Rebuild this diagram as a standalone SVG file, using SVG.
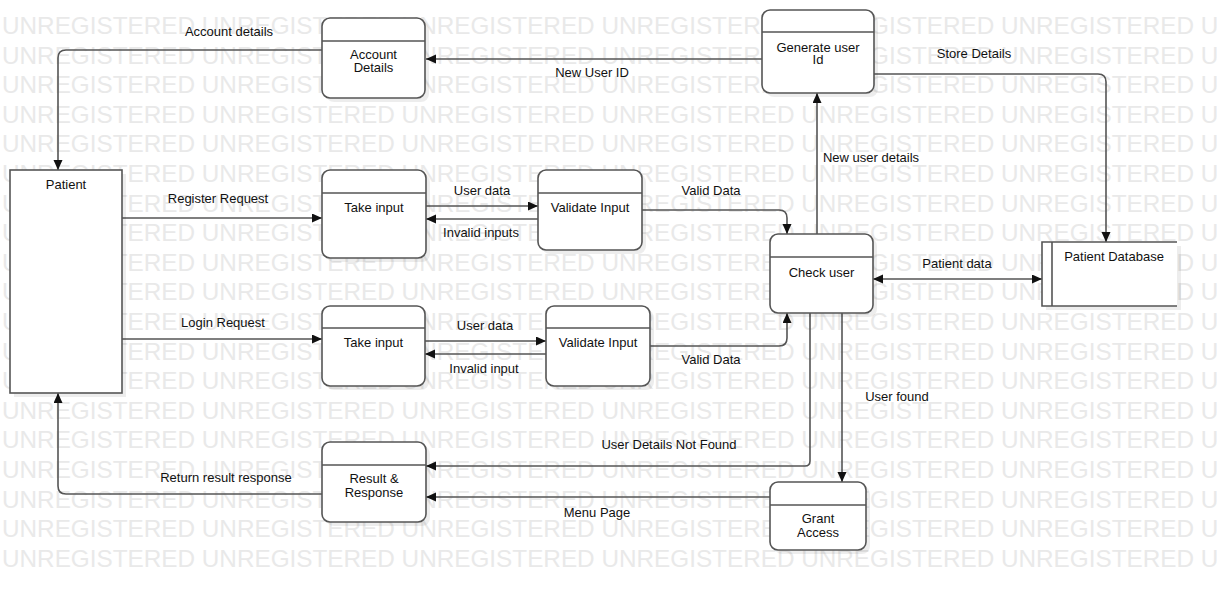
<svg xmlns="http://www.w3.org/2000/svg" width="1217" height="590" viewBox="0 0 1217 590">
<style>
.wm{font-family:"Liberation Sans",Arial,sans-serif;font-size:24.3px;fill:#e9e9e9}
.box{fill:#fff;stroke:#555;stroke-width:1.6}
.hd{stroke:#555;stroke-width:1.6}
.sh{fill:#000;fill-opacity:0.07}
.t{font-family:"Liberation Sans",Arial,sans-serif;font-size:13px;fill:#111;text-anchor:middle}
.c{fill:none;stroke:#555;stroke-width:1.6}
</style>
<defs>
<marker id="a" markerUnits="userSpaceOnUse" markerWidth="12" markerHeight="10" refX="10" refY="4.5" orient="auto-start-reverse"><path d="M0,0 L10,4.5 L0,9 z" fill="#111"/></marker>
</defs>
<rect width="1217" height="590" fill="#fff"/>
<g id="watermark">
<text class="wm" x="2" y="34">UNREGISTERED UNREGISTERED UNREGISTERED UNREGISTERED UNREGISTERED UNREGISTERED UNREGISTERED</text>
<text class="wm" x="2" y="63.6">UNREGISTERED UNREGISTERED UNREGISTERED UNREGISTERED UNREGISTERED UNREGISTERED UNREGISTERED</text>
<text class="wm" x="2" y="93.2">UNREGISTERED UNREGISTERED UNREGISTERED UNREGISTERED UNREGISTERED UNREGISTERED UNREGISTERED</text>
<text class="wm" x="2" y="122.8">UNREGISTERED UNREGISTERED UNREGISTERED UNREGISTERED UNREGISTERED UNREGISTERED UNREGISTERED</text>
<text class="wm" x="2" y="152.4">UNREGISTERED UNREGISTERED UNREGISTERED UNREGISTERED UNREGISTERED UNREGISTERED UNREGISTERED</text>
<text class="wm" x="2" y="182">UNREGISTERED UNREGISTERED UNREGISTERED UNREGISTERED UNREGISTERED UNREGISTERED UNREGISTERED</text>
<text class="wm" x="2" y="211.6">UNREGISTERED UNREGISTERED UNREGISTERED UNREGISTERED UNREGISTERED UNREGISTERED UNREGISTERED</text>
<text class="wm" x="2" y="241.2">UNREGISTERED UNREGISTERED UNREGISTERED UNREGISTERED UNREGISTERED UNREGISTERED UNREGISTERED</text>
<text class="wm" x="2" y="270.8">UNREGISTERED UNREGISTERED UNREGISTERED UNREGISTERED UNREGISTERED UNREGISTERED UNREGISTERED</text>
<text class="wm" x="2" y="300.4">UNREGISTERED UNREGISTERED UNREGISTERED UNREGISTERED UNREGISTERED UNREGISTERED UNREGISTERED</text>
<text class="wm" x="2" y="330">UNREGISTERED UNREGISTERED UNREGISTERED UNREGISTERED UNREGISTERED UNREGISTERED UNREGISTERED</text>
<text class="wm" x="2" y="359.6">UNREGISTERED UNREGISTERED UNREGISTERED UNREGISTERED UNREGISTERED UNREGISTERED UNREGISTERED</text>
<text class="wm" x="2" y="389.2">UNREGISTERED UNREGISTERED UNREGISTERED UNREGISTERED UNREGISTERED UNREGISTERED UNREGISTERED</text>
<text class="wm" x="2" y="418.8">UNREGISTERED UNREGISTERED UNREGISTERED UNREGISTERED UNREGISTERED UNREGISTERED UNREGISTERED</text>
<text class="wm" x="2" y="448.4">UNREGISTERED UNREGISTERED UNREGISTERED UNREGISTERED UNREGISTERED UNREGISTERED UNREGISTERED</text>
<text class="wm" x="2" y="478">UNREGISTERED UNREGISTERED UNREGISTERED UNREGISTERED UNREGISTERED UNREGISTERED UNREGISTERED</text>
<text class="wm" x="2" y="507.6">UNREGISTERED UNREGISTERED UNREGISTERED UNREGISTERED UNREGISTERED UNREGISTERED UNREGISTERED</text>
<text class="wm" x="2" y="537.2">UNREGISTERED UNREGISTERED UNREGISTERED UNREGISTERED UNREGISTERED UNREGISTERED UNREGISTERED</text>
<text class="wm" x="2" y="566.8">UNREGISTERED UNREGISTERED UNREGISTERED UNREGISTERED UNREGISTERED UNREGISTERED UNREGISTERED</text>
</g>
<g id="connectors">
<path class="c" d="M762,59 H426" marker-end="url(#a)"/>
<text class="t" x="592" y="77">New User ID</text>
<path class="c" d="M322,50 H66 Q58,50 58,58 V170" marker-end="url(#a)"/>
<text class="t" x="229" y="36">Account details</text>
<path class="c" d="M122,218 H322" marker-end="url(#a)"/>
<text class="t" x="218" y="203">Register Request</text>
<path class="c" d="M426,206 H538" marker-end="url(#a)"/>
<text class="t" x="482" y="195">User data</text>
<path class="c" d="M538,219 H426" marker-end="url(#a)"/>
<text class="t" x="481" y="237">Invalid inputs</text>
<path class="c" d="M642,210 H779 Q787,210 787,218 V234" marker-end="url(#a)"/>
<text class="t" x="711" y="195">Valid Data</text>
<path class="c" d="M122,339 H322" marker-end="url(#a)"/>
<text class="t" x="223" y="327">Login Request</text>
<path class="c" d="M425,341 H546" marker-end="url(#a)"/>
<text class="t" x="485" y="330">User data</text>
<path class="c" d="M546,354 H425" marker-end="url(#a)"/>
<text class="t" x="484" y="373">Invalid input</text>
<path class="c" d="M650,346 H779 Q787,346 787,338 V313" marker-end="url(#a)"/>
<text class="t" x="711" y="364">Valid Data</text>
<path class="c" d="M817,234 V93" marker-end="url(#a)"/>
<text class="t" x="871" y="162">New user details</text>
<path class="c" d="M874,74 H1098 Q1106,74 1106,82 V242" marker-end="url(#a)"/>
<text class="t" x="974" y="58">Store Details</text>
<path class="c" d="M873,279 H1042" marker-start="url(#a)" marker-end="url(#a)"/>
<text class="t" x="957" y="268">Patient data</text>
<path class="c" d="M810,313 V461 Q810,466 805,466 H426" marker-end="url(#a)"/>
<text class="t" x="669" y="449">User Details Not Found</text>
<path class="c" d="M842,313 V482" marker-end="url(#a)"/>
<text class="t" x="897" y="401">User found</text>
<path class="c" d="M770,497 H426" marker-end="url(#a)"/>
<text class="t" x="597" y="517">Menu Page</text>
<path class="c" d="M322,494 H66 Q58,494 58,486 V393" marker-end="url(#a)"/>
<text class="t" x="226" y="482">Return result response</text>
</g>
<g id="patient">
<rect class="sh" x="14" y="174" width="112" height="223"/>
<rect class="box" x="10" y="170" width="112" height="223"/>
<text class="t" x="66" y="189">Patient</text>
</g>
<g id="account-details">
<rect class="sh" x="326" y="22" width="103" height="80" rx="8"/>
<rect class="box" x="322" y="18" width="103" height="80" rx="8"/>
<line class="hd" x1="322" y1="41" x2="425" y2="41"/>
<text class="t" x="373.5" y="59">Account</text>
<text class="t" x="373.5" y="72">Details</text>
</g>
<g id="take-input-1">
<rect class="sh" x="326" y="174" width="104" height="88" rx="8"/>
<rect class="box" x="322" y="170" width="104" height="88" rx="8"/>
<line class="hd" x1="322" y1="193" x2="426" y2="193"/>
<text class="t" x="374" y="212">Take input</text>
</g>
<g id="validate-input-1">
<rect class="sh" x="542" y="174" width="104" height="80" rx="8"/>
<rect class="box" x="538" y="170" width="104" height="80" rx="8"/>
<line class="hd" x1="538" y1="193" x2="642" y2="193"/>
<text class="t" x="590" y="212">Validate Input</text>
</g>
<g id="take-input-2">
<rect class="sh" x="326" y="310" width="103" height="80" rx="8"/>
<rect class="box" x="322" y="306" width="103" height="80" rx="8"/>
<line class="hd" x1="322" y1="328" x2="425" y2="328"/>
<text class="t" x="373.5" y="347">Take input</text>
</g>
<g id="validate-input-2">
<rect class="sh" x="550" y="310" width="104" height="80" rx="8"/>
<rect class="box" x="546" y="306" width="104" height="80" rx="8"/>
<line class="hd" x1="546" y1="328" x2="650" y2="328"/>
<text class="t" x="598" y="347">Validate Input</text>
</g>
<g id="generate-user-id">
<rect class="sh" x="766" y="14" width="112" height="83" rx="8"/>
<rect class="box" x="762" y="10" width="112" height="83" rx="8"/>
<line class="hd" x1="762" y1="32" x2="874" y2="32"/>
<text class="t" x="818" y="52">Generate user</text>
<text class="t" x="818" y="64">Id</text>
</g>
<g id="check-user">
<rect class="sh" x="774" y="238" width="103" height="79" rx="8"/>
<rect class="box" x="770" y="234" width="103" height="79" rx="8"/>
<line class="hd" x1="770" y1="257" x2="873" y2="257"/>
<text class="t" x="821.5" y="277">Check user</text>
</g>
<g id="patient-database">
<rect class="sh" x="1046" y="246" width="135" height="64"/>
<rect x="1042" y="242" width="135" height="64" fill="#fff"/>
<path class="c" d="M1177,242 H1042 V306 H1177 M1052,242 V306"/>
<text class="t" x="1114" y="261">Patient Database</text>
</g>
<g id="result-response">
<rect class="sh" x="326" y="446" width="104" height="80" rx="8"/>
<rect class="box" x="322" y="442" width="104" height="80" rx="8"/>
<line class="hd" x1="322" y1="465" x2="426" y2="465"/>
<text class="t" x="374" y="483">Result &amp;</text>
<text class="t" x="374" y="497">Response</text>
</g>
<g id="grant-access">
<rect class="sh" x="774" y="486" width="96" height="68" rx="8"/>
<rect class="box" x="770" y="482" width="96" height="68" rx="8"/>
<line class="hd" x1="770" y1="505" x2="866" y2="505"/>
<text class="t" x="818" y="523">Grant</text>
<text class="t" x="818" y="537">Access</text>
</g>
</svg>
